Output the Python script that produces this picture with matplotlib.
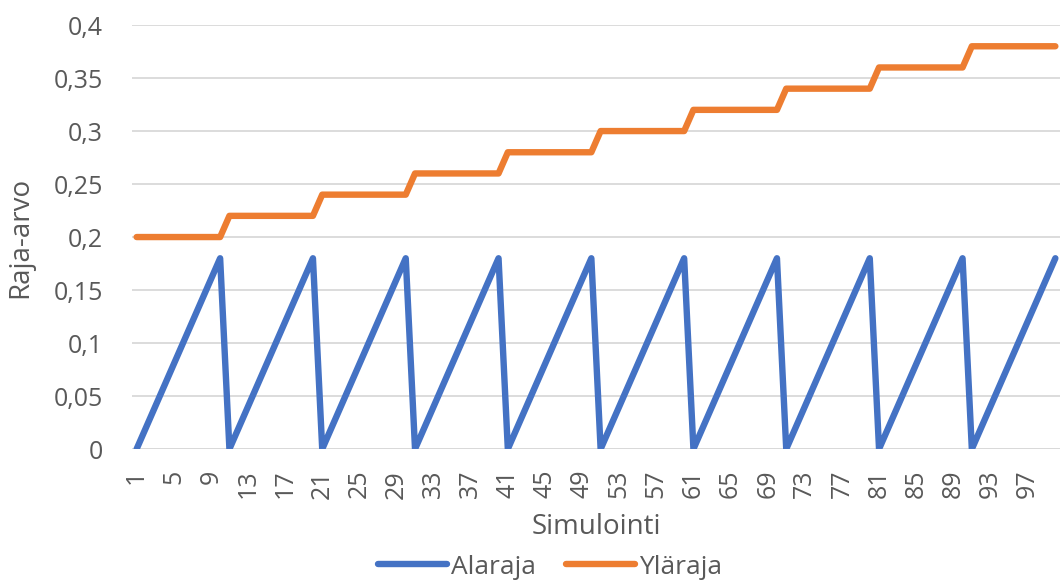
import matplotlib.pyplot as plt

# Simulation index 1..100
simulations = list(range(1, 101))

# Lower limit: one saw-tooth cycle, repeats every 10 simulations
alaraja_cycle = [0.00, 0.02, 0.04, 0.06, 0.08, 0.10, 0.12, 0.14, 0.16, 0.18]
# Upper limit: one level per block of 10 simulations
ylaraja_levels = [0.20, 0.22, 0.24, 0.26, 0.28, 0.30, 0.32, 0.34, 0.36, 0.38]

alaraja = [alaraja_cycle[(s - 1) % 10] for s in simulations]
ylaraja = [ylaraja_levels[(s - 1) // 10] for s in simulations]

x_ticks = list(range(1, 101, 4))
y_ticks = [0, 0.05, 0.1, 0.15, 0.2, 0.25, 0.3, 0.35, 0.4]
y_labels = ["0", "0,05", "0,1", "0,15", "0,2", "0,25", "0,3", "0,35", "0,4"]

plt.rcParams['font.family'] = ['Open Sans', 'DejaVu Sans']
text_col = '#595959'

fig = plt.figure(figsize=(10.6, 5.83), dpi=100)
ax = fig.add_axes([0.1245, 0.2298, 0.8755, 0.7272])

ax.plot(simulations, alaraja, color='#4472C4', lw=4.6, solid_joinstyle='round',
        solid_capstyle='round', label='Alaraja', zorder=3)
ax.plot(simulations, ylaraja, color='#ED7D31', lw=4.6, solid_joinstyle='round',
        solid_capstyle='round', label='Yläraja', zorder=3)

ax.set_xlim(0.5, 100.5)
ax.set_ylim(0, 0.4)
ax.set_yticks(y_ticks)
ax.set_yticklabels(y_labels)
ax.set_xticks(x_ticks)
ax.set_xticklabels([str(t) for t in x_ticks], rotation=90)

ax.grid(axis='y', color='#D9D9D9', lw=1.3, zorder=0)
ax.tick_params(axis='both', length=0, labelsize=18, labelcolor=text_col)
ax.tick_params(axis='y', pad=21)
ax.tick_params(axis='x', pad=15)
for s in ax.spines.values():
    s.set_visible(False)
ax.axhline(0, color='#D9D9D9', lw=1.3, zorder=1)

ax.set_ylabel('Raja-arvo', fontsize=20, color=text_col, va='center')
ax.yaxis.set_label_coords((20 - 132) / 928, 0.5)
ax.set_xlabel('Simulointi', fontsize=20, color=text_col, va='center')
ax.xaxis.set_label_coords(0.5, (449 - 527) / 424)

fig.legend(loc='center', bbox_to_anchor=(550 / 1060, 1 - 567 / 583), ncol=2,
           frameon=False, fontsize=19, labelcolor=text_col, handlelength=2.6,
           handletextpad=0.15, columnspacing=1.15)

fig.savefig('out.png', dpi=100)
